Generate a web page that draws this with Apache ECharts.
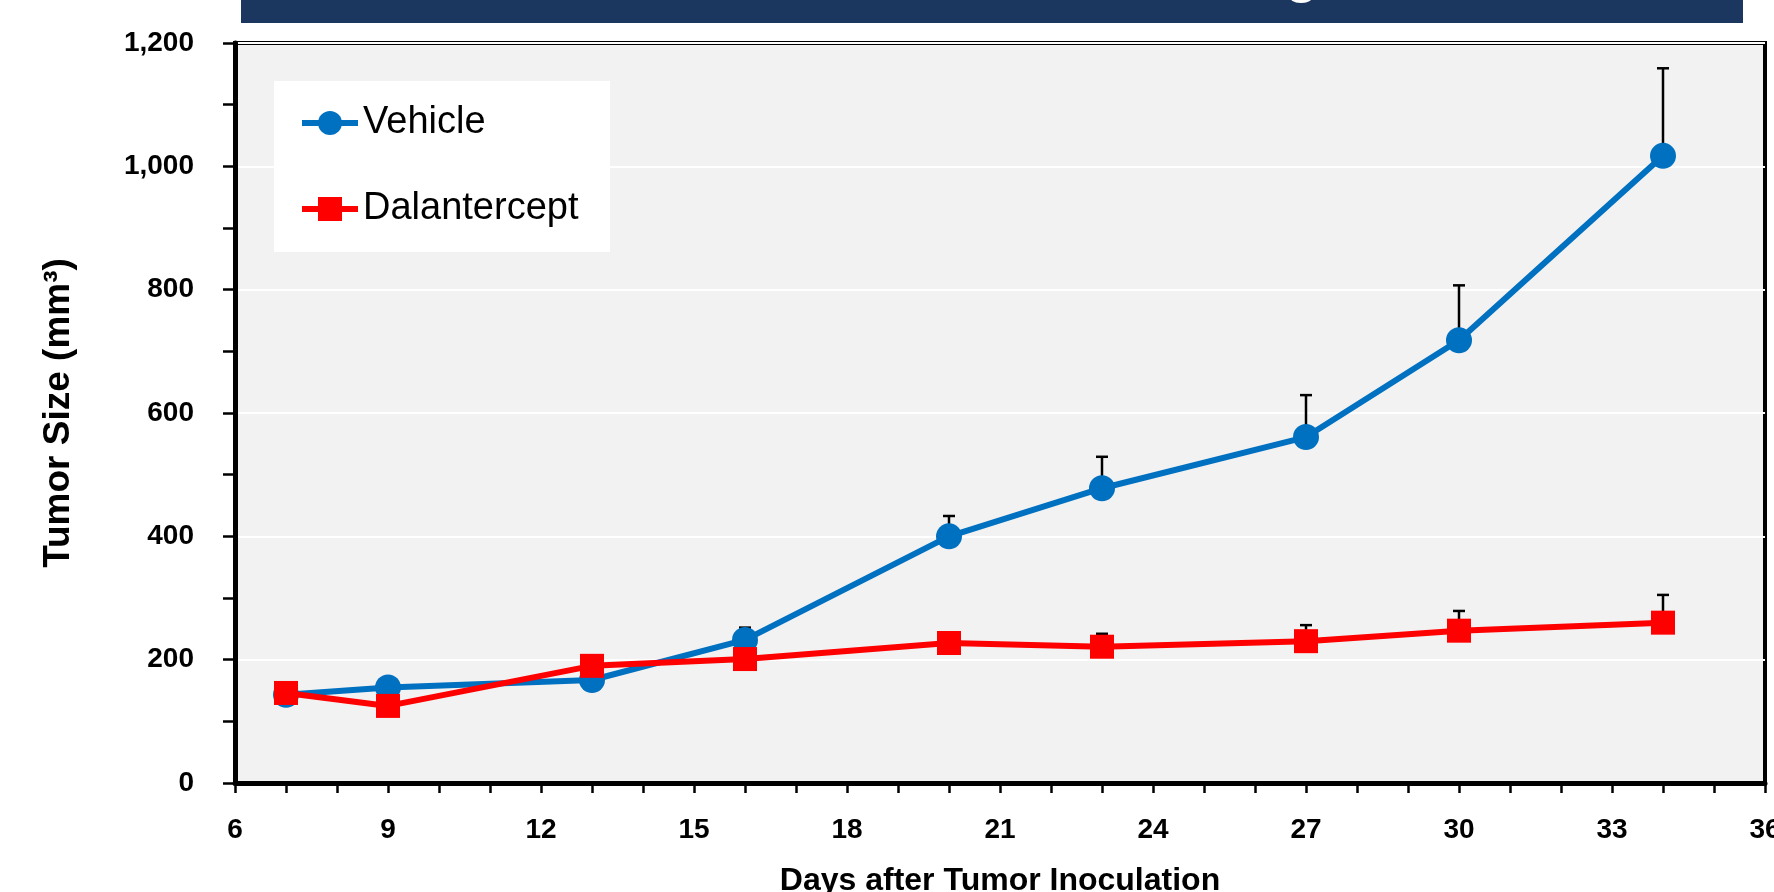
<!DOCTYPE html>
<html>
<head>
<meta charset="utf-8">
<script src="https://cdn.jsdelivr.net/npm/echarts@6/dist/echarts.min.js"></script>
<style>
  html, body { margin: 0; padding: 0; background: #fff; }
  #chart { width: 1774px; height: 892px; }
</style>
</head>
<body>
<div id="chart"></div>
<script>
// days after inoculation (x values)
const days = [7, 9, 13, 16, 20, 23, 27, 30, 34];

// mean tumor size, mm3
const vehicleMean = [143, 155, 167, 232, 400, 478, 561, 718, 1017];
const dalanMean = [146, 125, 190, 201, 227, 221, 230, 247, 260];

// upper error (SEM)
const vehicleErr = [8, 9, 10, 20, 33, 51, 68, 89, 142];
const dalanErr = [6, 6, 8, 8, 10, 21, 26, 32, 45];

const seriesNames = ['Vehicle', 'Dalantercept'];
const titleText = 'Renal Cell Carcinoma Xenograft Model';

const blue = '#0070c0';
const red = '#ff0000';

const chart = echarts.init(document.getElementById('chart'));

const toPairs = (ys) => days.map((d, i) => [d, ys[i]]);
const toErr = (ys, es) => days.map((d, i) => [d, ys[i], ys[i] + es[i]]);

// draws the upper error whisker with a cap
function errorBar(params, api) {
  const lo = api.coord([api.value(0), api.value(1)]);
  const hi = api.coord([api.value(0), api.value(2)]);
  const style = { stroke: '#000', lineWidth: 2.5 };
  return {
    type: 'group',
    children: [
      { type: 'line', shape: { x1: lo[0], y1: lo[1], x2: hi[0], y2: hi[1] }, style },
      { type: 'line', shape: { x1: hi[0] - 6, y1: hi[1], x2: hi[0] + 6, y2: hi[1] }, style }
    ]
  };
}

const labelFont = { color: '#000', fontFamily: 'Liberation Sans', fontWeight: 'bold', fontSize: 28 };
const nameFont = { color: '#000', fontFamily: 'Liberation Sans', fontWeight: 'bold', fontSize: 32 };

chart.setOption({
  animation: false,
  backgroundColor: '#fff',
  graphic: [
    { type: 'rect', left: 241, top: 0, shape: { width: 1502, height: 23 }, style: { fill: '#1b375f' }, z: 10 },
    { type: 'text', x: 583, y: -50, z: 11,
      style: { text: titleText, fill: '#fff', font: 'bold 54px "Liberation Sans"', textVerticalAlign: 'top' } },
    { type: 'rect', left: 274, top: 81, shape: { width: 336, height: 171 }, style: { fill: '#fff' }, z: 1 }
  ],
  grid: {
    left: 235, right: 9, top: 43, bottom: 109,
    outerBoundsMode: 'none',
    show: true, backgroundColor: '#f2f2f2', borderColor: '#000', borderWidth: 4
  },
  legend: {
    data: seriesNames,
    orient: 'vertical',
    left: 299, top: 101,
    padding: 0,
    itemGap: 42,
    itemWidth: 56, itemHeight: 30,
    lineStyle: { width: 6 },
    textStyle: { fontFamily: 'Liberation Sans', fontSize: 38, color: '#000', lineHeight: 44 }
  },
  xAxis: {
    type: 'value', min: 6, max: 36, interval: 3,
    name: 'Days after Tumor Inoculation', nameLocation: 'middle', nameGap: 82,
    nameTextStyle: nameFont,
    axisLine: { show: true, onZero: false, lineStyle: { color: '#000', width: 5 } },
    axisTick: { show: true, length: 10, lineStyle: { color: '#000', width: 2.5 } },
    minorTick: { show: true, splitNumber: 3, length: 10, lineStyle: { color: '#000', width: 2.5 } },
    axisLabel: Object.assign({ margin: 33 }, labelFont),
    splitLine: { show: false }
  },
  yAxis: {
    type: 'value', min: 0, max: 1200, interval: 200,
    name: 'Tumor Size (mm³)', nameLocation: 'middle', nameGap: 158, nameRotate: 90,
    nameTextStyle: Object.assign({}, nameFont, { fontSize: 37 }),
    axisLine: { show: true, lineStyle: { color: '#000', width: 5 } },
    axisTick: { show: true, length: 12, lineStyle: { color: '#000', width: 2.5 } },
    minorTick: { show: true, splitNumber: 2, length: 12, lineStyle: { color: '#000', width: 2.5 } },
    axisLabel: Object.assign({ margin: 41, formatter: (v) => v.toLocaleString('en-US') }, labelFont),
    splitLine: { show: true, lineStyle: { color: '#fff', width: 2 } }
  },
  series: [
    { name: 'VehicleErr', type: 'custom', renderItem: errorBar, data: toErr(vehicleMean, vehicleErr), z: 1, silent: true },
    { name: 'DalanErr', type: 'custom', renderItem: errorBar, data: toErr(dalanMean, dalanErr), z: 1, silent: true },
    {
      name: seriesNames[0], type: 'line', data: toPairs(vehicleMean), z: 3,
      symbol: 'circle', symbolSize: 26,
      lineStyle: { color: blue, width: 6 }, itemStyle: { color: blue }
    },
    {
      name: seriesNames[1], type: 'line', data: toPairs(dalanMean), z: 4,
      symbol: 'rect', symbolSize: 24,
      lineStyle: { color: red, width: 6 }, itemStyle: { color: red }
    }
  ]
});
</script>
</body>
</html>
